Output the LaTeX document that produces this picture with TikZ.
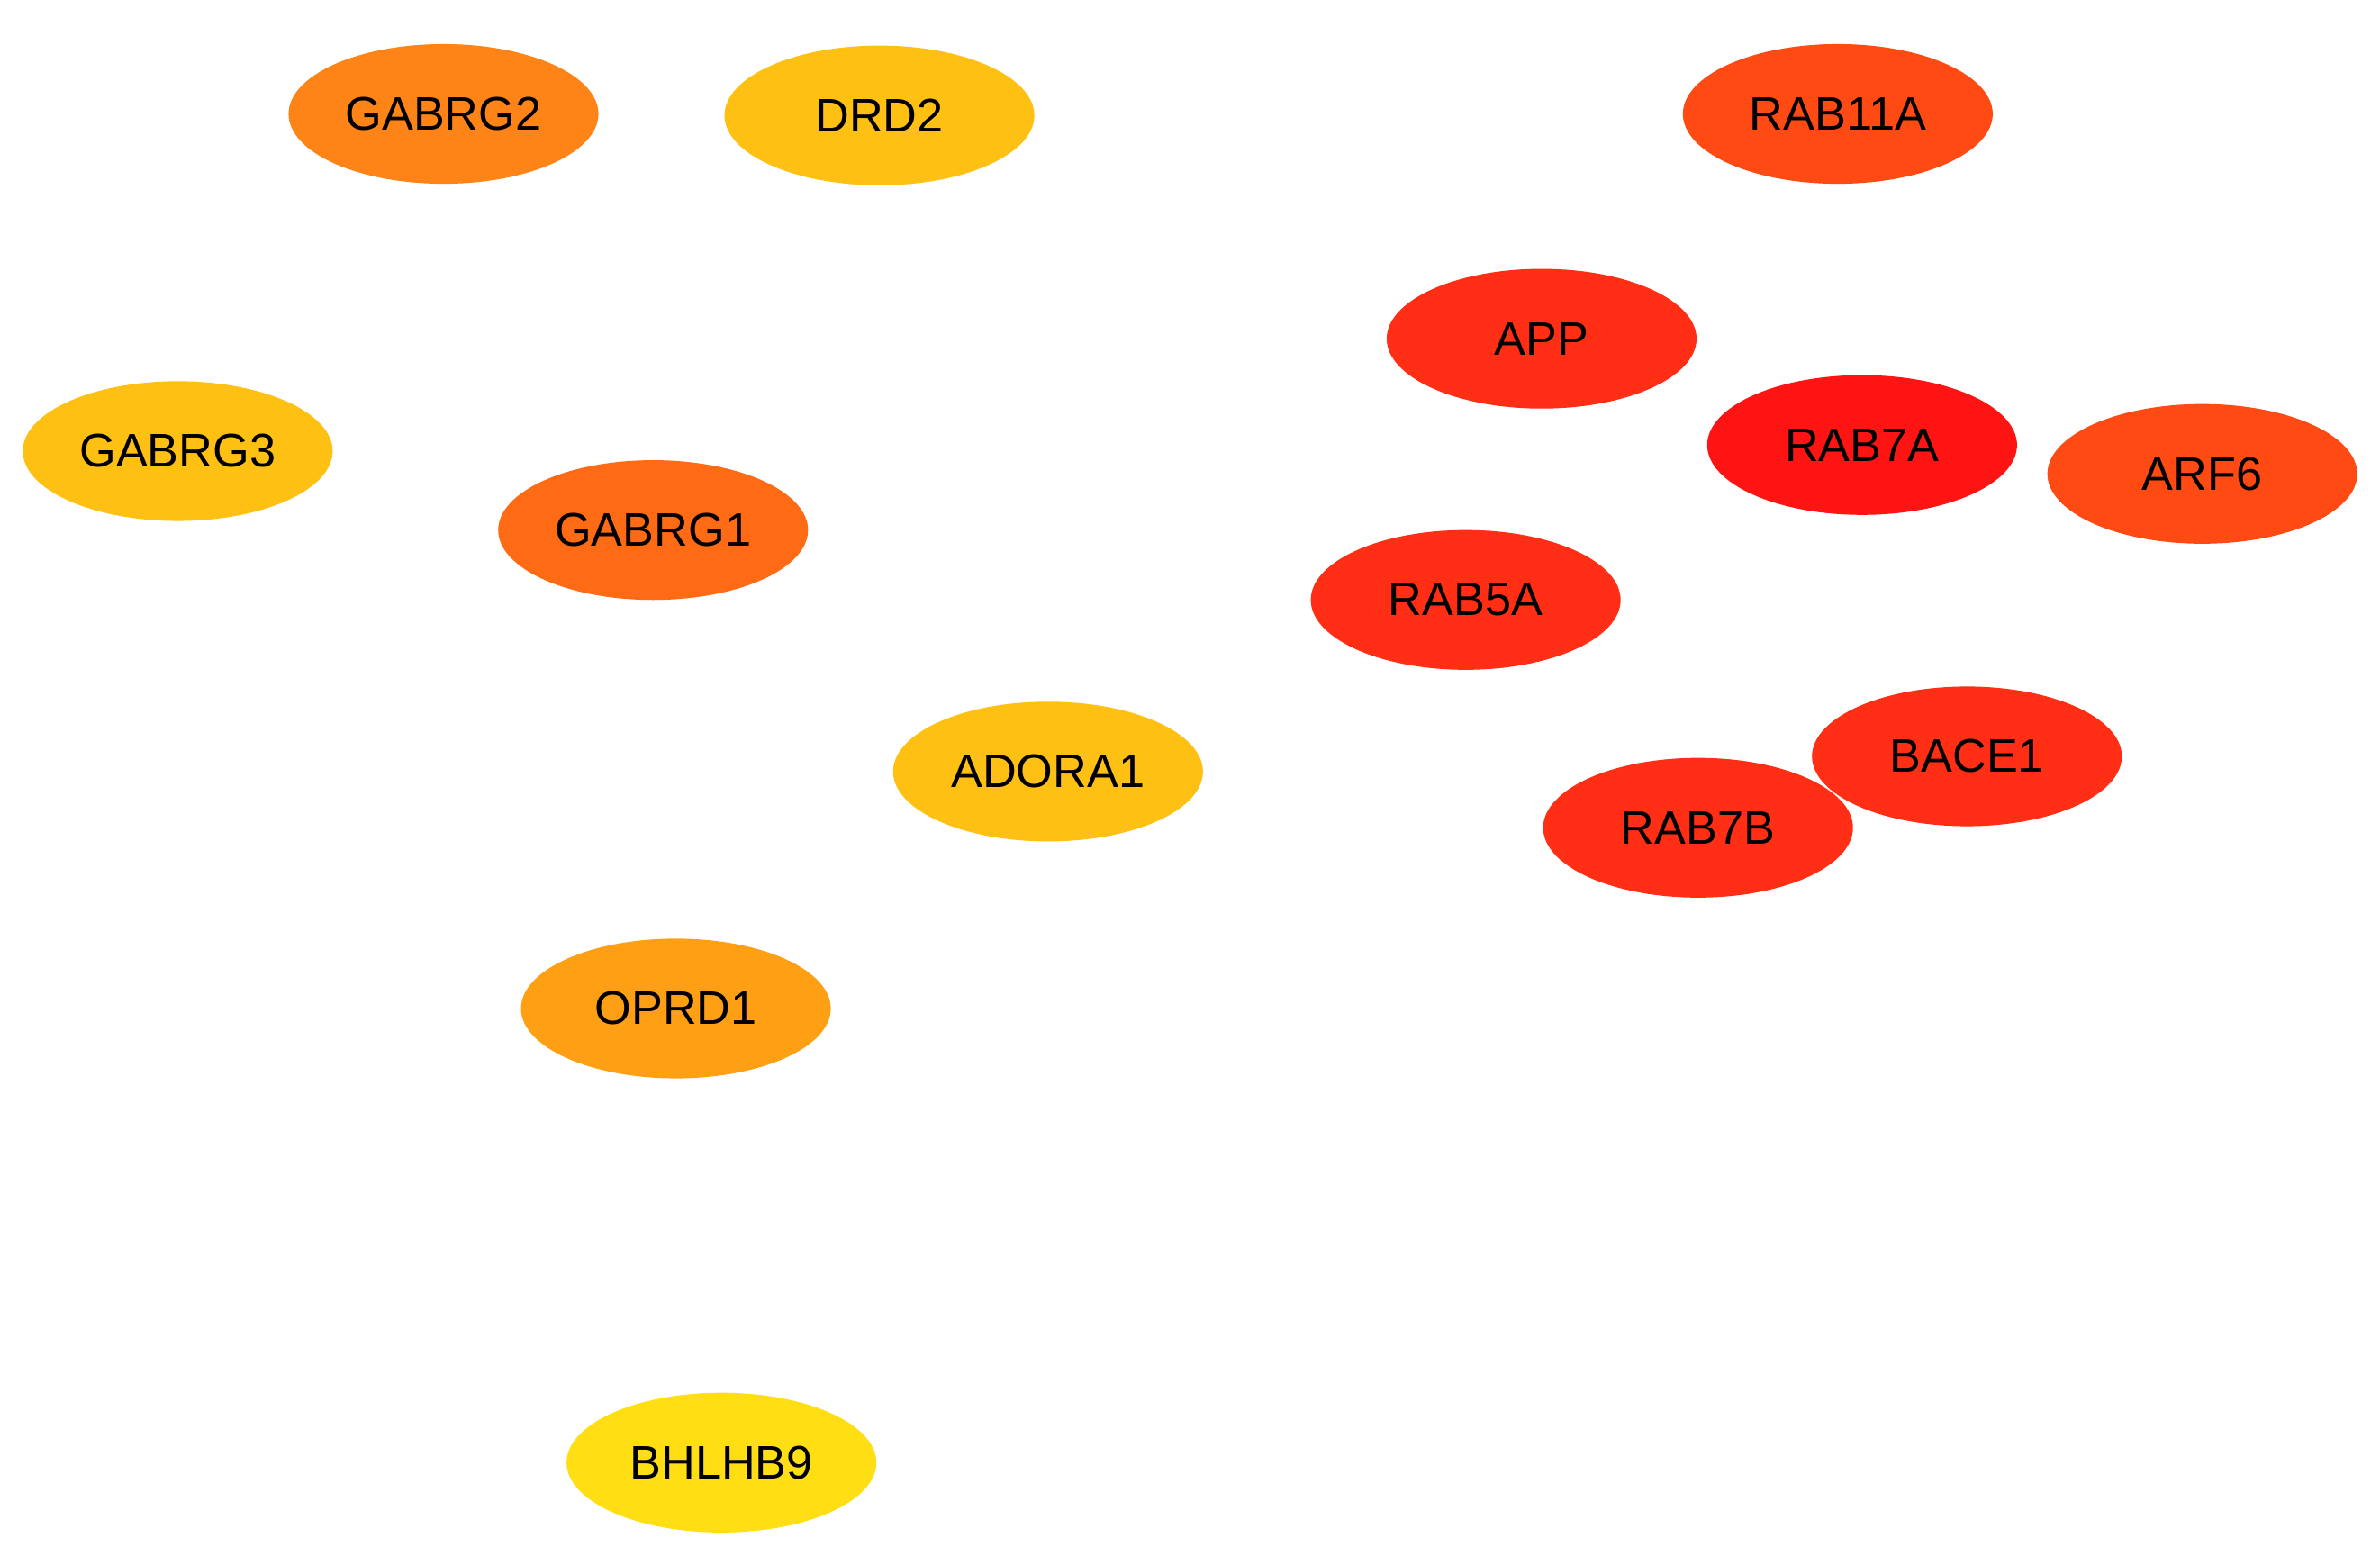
\documentclass[tikz,border=0pt]{standalone}
\usepackage{fontspec}
\setmainfont{Liberation Sans}
\usetikzlibrary{shapes.geometric}
\begin{document}
\begin{tikzpicture}[x=0.5pt,y=-0.5pt,
  g/.style={ellipse,minimum width=102pt,minimum height=46pt,inner sep=0pt,font=\fontsize{15.5}{18}\selectfont},
  e/.style={draw=black,line width=0.7pt}]
\fill[white] (0,0) rectangle (1567,1030);
\useasboundingbox (0,0) rectangle (1567,1030);
\definecolor{c1}{HTML}{FF8418}\definecolor{c2}{HTML}{FFC014}\definecolor{c3}{HTML}{FF6A14}
\definecolor{c4}{HTML}{FFA014}\definecolor{c5}{HTML}{FFDF14}\definecolor{c6}{HTML}{FF4A14}
\definecolor{c7}{HTML}{FF2E14}\definecolor{c8}{HTML}{FF1414}
\begin{scope}[every node/.style={g}]
\node[fill=c1] (GABRG2) at (292,75) {GABRG2};
\node[fill=c2] (DRD2) at (579,76) {DRD2};
\node[fill=c2] (GABRG3) at (117,297) {GABRG3};
\node[fill=c3] (GABRG1) at (430,349) {GABRG1};
\node[fill=c2] (ADORA1) at (690,508) {ADORA1};
\node[fill=c4] (OPRD1) at (445,664) {OPRD1};
\node[fill=c5] (BHLHB9) at (475,963) {BHLHB9};
\node[fill=c6] (RAB11A) at (1210,75) {RAB11A};
\node[fill=c7] (APP) at (1015,223) {APP};
\node[fill=c8] (RAB7A) at (1226,293) {RAB7A};
\node[fill=c6] (ARF6) at (1450,312) {ARF6};
\node[fill=c7] (RAB5A) at (965,395) {RAB5A};
\node[fill=c7] (BACE1) at (1295,498) {BACE1};
\node[fill=c7] (RAB7B) at (1118,545) {RAB7B};
\end{scope}
\begin{scope}[on background layer/.style={}]
\end{scope}
\pgfdeclarelayer{bg}\pgfsetlayers{bg,main}
\begin{pgfonlayer}{bg}
\foreach \a/\b in {GABRG2/DRD2,GABRG2/GABRG3,GABRG2/GABRG1,DRD2/GABRG1,GABRG3/GABRG1,GABRG1/ADORA1,GABRG1/OPRD1,ADORA1/OPRD1,OPRD1/BHLHB9,
RAB11A/APP,RAB11A/RAB5A,RAB11A/RAB7A,RAB11A/ARF6,APP/RAB7A,APP/RAB5A,APP/RAB7B,APP/BACE1,RAB7A/RAB5A,RAB7A/ARF6,RAB7A/RAB7B,RAB7A/BACE1,ARF6/BACE1,ARF6/RAB7B,RAB5A/RAB7B,RAB5A/BACE1}
  \draw[e] (\a.center) -- (\b.center);
\end{pgfonlayer}
\end{tikzpicture}
\end{document}
